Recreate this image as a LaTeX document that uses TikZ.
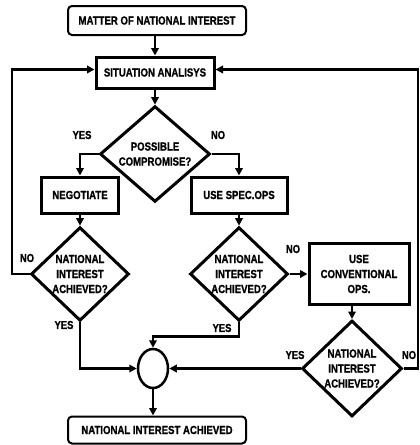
\documentclass[tikz,border=0pt]{standalone}
\usepackage{fontspec}
\setmainfont{Liberation Sans}[FakeStretch=0.82,FakeBold=1]
\usetikzlibrary{shapes.geometric,arrows.meta}
\tikzset{
  txt/.style={font=\fontsize{11.7}{15}\selectfont\bfseries, align=center, inner sep=0pt},
  rbox/.style={txt, draw, rectangle, rounded corners=4pt, line width=2pt},
  sbox/.style={txt, draw, rectangle, line width=3pt},
  dec/.style={txt, draw, diamond, line width=3pt},
  conn/.style={line width=2.6pt},
  arr/.style={conn, -{Triangle[length=7.5pt,width=7.5pt]}},
  lbl/.style={font=\fontsize{11.5}{12}\selectfont\bfseries, inner sep=0pt}
}
\begin{document}
\begin{tikzpicture}[x=1pt,y=-1pt]
\useasboundingbox (0,0) rectangle (420,445);
\node[rbox, minimum width=178pt, minimum height=29pt] (top) at (157,20.5) {MATTER OF NATIONAL INTEREST};
\node[sbox, minimum width=118pt, minimum height=31pt] (sa) at (155,72.5) {SITUATION ANALISYS};
\node[dec, minimum width=110pt, minimum height=86pt] (d1) at (155,154) {POSSIBLE\\COMPROMISE?};
\node[sbox, minimum width=77pt, minimum height=36pt] (neg) at (80,195) {NEGOTIATE};
\node[sbox, minimum width=96pt, minimum height=36pt] (spec) at (239,195) {USE SPEC.OPS};
\node[dec, minimum width=98pt, minimum height=92pt] (d2) at (80,274) {NATIONAL\\INTEREST\\ACHIEVED?};
\node[dec, minimum width=98pt, minimum height=92pt] (d3) at (239,274) {NATIONAL\\INTEREST\\ACHIEVED?};
\node[sbox, minimum width=100pt, minimum height=61pt] (conv) at (359,274) {USE\\CONVENTIONAL\\OPS.};
\node[dec, minimum width=100pt, minimum height=96pt] (d4) at (352,368.5) {NATIONAL\\INTEREST\\ACHIEVED?};
\node[draw, ellipse, line width=2.5pt, minimum width=30pt, minimum height=39pt, inner sep=0pt] (circ) at (153,368.5) {};
\node[rbox, minimum width=178pt, minimum height=27pt] (fin) at (157,430) {NATIONAL INTEREST ACHIEVED};

\coordinate (lc) at (12,274);
\coordinate (rc) at (418,368.5);

\draw[arr] (top.south -| sa.north) -- (sa.north);
\draw[arr] (sa.south) -- (d1.north);
\draw[arr] (d1.west) -| (neg.north);
\draw[arr] (d1.east) -| (spec.north);
\draw[arr] (neg.south) -- (d2.north);
\draw[arr] (spec.south) -- (d3.north);
\draw[arr] (d2.west) -- (lc) |- ([yshift=3pt]sa.west);
\draw[arr] (d2.south) |- (circ.west);
\draw[arr] (d3.south) -- ++(0,14) -| (circ.north);
\draw[arr] (d3.east) -- (conv.west);
\draw[arr] (conv.south -| d4.north) -- (d4.north);
\draw[arr] (d4.west) -- (circ.east);
\draw[arr] (d4.east) -- (rc) |- ([yshift=3pt]sa.east);
\draw[arr] (circ.south) -- (circ.south |- fin.north);

\node[lbl] (l1) at (82,135) {YES};
\node[lbl] (l2) at (218,135) {NO};
\node[lbl] (l3) at (27,258) {NO};
\node[lbl] (l4) at (64,325) {YES};
\node[lbl] (l5) at (222,328) {YES};
\node[lbl] (l6) at (293,249) {NO};
\node[lbl] (l7) at (295,355) {YES};
\node[lbl] (l8) at (409,355) {NO};
\end{tikzpicture}
\end{document}
